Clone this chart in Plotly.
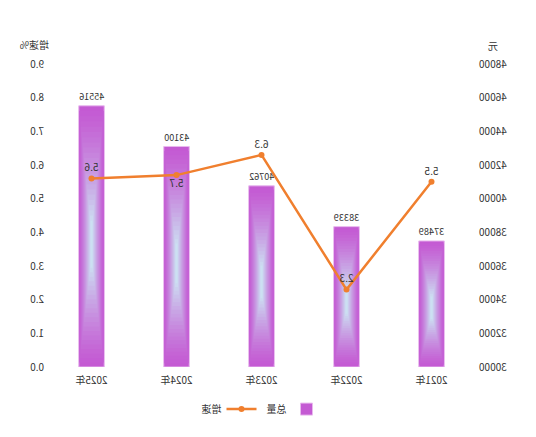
import plotly.graph_objects as go

years = ["2021年", "2022年", "2023年", "2024年", "2025年"]
total = [37489, 38339, 40762, 43100, 45516]
growth = [5.5, 2.3, 6.3, 5.7, 5.6]
growth_text_pos = ["top center", "top center", "top center", "bottom center", "top center"]

Y1_MIN, Y1_MAX = 30000, 48000
FONT = "Noto Sans CJK SC, Noto Sans, sans-serif"
TXT = "#333333"

fig = go.Figure()

# gradient-like bars: overlaid layers from purple edge to light-blue centre
N = 22
outer = (196, 90, 211)
inner = (204, 224, 242)
for k in range(N + 1):
    t = k / N
    col = "rgb(%d,%d,%d)" % tuple(round(outer[i] + (inner[i] - outer[i]) * (t ** 1.3)) for i in range(3))
    w = 0.30 * (1 - 0.92 * t)
    lo = 0.38 * t
    hi = 0.44 * t
    bases = [Y1_MIN + (v - Y1_MIN) * lo for v in total]
    heights = [(v - Y1_MIN) * (1 - lo - hi) for v in total]
    fig.add_trace(go.Bar(
        x=years, y=heights if k else [v - Y1_MIN for v in total],
        base=bases if k else [Y1_MIN] * len(total),
        width=w, marker=dict(color=col, line=dict(width=1 if k == 0 else 0, color="#e8b8ee")),
        name="总量", showlegend=(k == 0), legendgroup="total",
        text=[str(v) for v in total] if k == 0 else None,
        textposition="outside" if k == 0 else "none",
        textfont=dict(family=FONT, size=10, color=TXT),
        cliponaxis=False, hoverinfo="skip",
    ))

fig.add_trace(go.Scatter(
    x=years, y=growth, yaxis="y2", name="增速",
    mode="lines+markers+text",
    line=dict(color="#f07f2e", width=2.5),
    marker=dict(color="#f07f2e", size=6, symbol="circle"),
    text=[("%.1f" % g) for g in growth], textposition=growth_text_pos,
    textfont=dict(family=FONT, size=10, color=TXT),
    cliponaxis=False,
))

fig.update_layout(
    width=536, height=437,
    margin=dict(l=62, r=49, t=64, b=70),
    paper_bgcolor="white", plot_bgcolor="white",
    barmode="overlay", bargap=0.7,
    font=dict(family=FONT, size=10, color=TXT),
    xaxis=dict(type="category", showgrid=False, showline=False, zeroline=False,
               ticks="", ticklabelstandoff=6, tickfont=dict(size=10, color=TXT)),
    yaxis=dict(range=[Y1_MIN, Y1_MAX], dtick=2000, tickformat="d", showgrid=False, zeroline=False,
               showline=False, ticks="", ticklabelstandoff=4, tickfont=dict(size=10, color=TXT)),
    yaxis2=dict(range=[0, 9], dtick=1, tickformat=".1f", overlaying="y", side="right",
                showgrid=False, zeroline=False, showline=False, ticks="", ticklabelstandoff=4,
                tickfont=dict(size=10, color=TXT)),
    legend=dict(orientation="h", x=0.50, xanchor="center", y=-0.139, yanchor="middle",
                font=dict(size=10, color=TXT), traceorder="normal"),
    annotations=[
        dict(text="元", xref="paper", yref="paper", x=-0.045, y=1.062, xanchor="center",
             yanchor="middle", showarrow=False, font=dict(size=10, color=TXT)),
        dict(text="增速%", xref="paper", yref="paper", x=1.034, y=1.066, xanchor="center",
             yanchor="middle", showarrow=False, font=dict(size=10, color=TXT)),
    ],
    showlegend=True,
)

post = ("document.body.style.margin='0';"
        "var d=document.getElementById('{plot_id}');"
        "d.style.transform='scaleX(-1)';d.style.transformOrigin='center';")
fig.write_html("out.html", post_script=post, config={"displayModeBar": False})
